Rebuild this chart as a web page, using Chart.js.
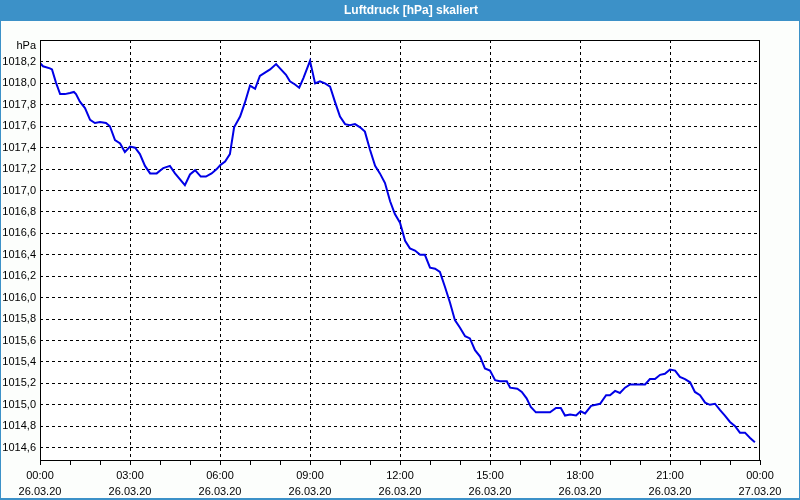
<!DOCTYPE html>
<html>
<head>
<meta charset="utf-8">
<script src="https://cdn.jsdelivr.net/npm/chart.js@4"></script>
<style>
  html, body { margin: 0; padding: 0; background: #fcfefc; }
  #wrap { width: 800px; height: 500px; }
</style>
</head>
<body>
<div id="wrap"><canvas id="chart" width="800" height="500"></canvas></div>
<script>
(function () {
  "use strict";

  var titleText = "Luftdruck [hPa] skaliert";
  var unitText = "hPa";
  var dateLabels = ["26.03.20", "27.03.20"];

  // hours since 26.03.20 00:00
  var hours = [
    0.00, 0.10, 0.33, 0.40, 0.53, 0.67, 0.83, 1.00, 1.13, 1.20,
    1.33, 1.50, 1.67, 1.83, 2.00, 2.20, 2.33, 2.50, 2.67, 2.83,
    3.00, 3.17, 3.33, 3.50, 3.67, 3.89, 4.11, 4.33, 4.50, 4.83,
    5.00, 5.17, 5.36, 5.53, 5.72, 5.89, 6.02, 6.17, 6.33, 6.47,
    6.67, 6.83, 7.00, 7.17, 7.33, 7.50, 7.67, 7.87, 8.00, 8.20,
    8.33, 8.50, 8.64, 8.78, 9.00, 9.17, 9.33, 9.50, 9.67, 9.83,
    10.00, 10.17, 10.33, 10.50, 10.67, 10.83, 11.00, 11.17, 11.33, 11.50,
    11.67, 11.83, 12.00, 12.17, 12.33, 12.50, 12.67, 12.83, 13.00, 13.17,
    13.33, 13.50, 13.67, 13.83, 14.00, 14.17, 14.33, 14.50, 14.67, 14.83,
    15.00, 15.17, 15.33, 15.56, 15.67, 15.91, 16.06, 16.22, 16.36, 16.53,
    17.00, 17.20, 17.36, 17.50, 17.67, 17.87, 18.02, 18.17, 18.37, 18.67,
    18.87, 19.00, 19.17, 19.33, 19.50, 19.67, 20.17, 20.33, 20.50, 20.67,
    20.83, 21.00, 21.17, 21.33, 21.50, 21.67, 21.83, 22.00, 22.17, 22.33,
    22.50, 22.67, 22.83, 23.00, 23.17, 23.33, 23.50, 23.67, 23.83
  ];

  var pressure = [
    1018.19, 1018.16, 1018.14, 1018.13, 1018.01, 1017.90, 1017.90, 1017.91, 1017.92, 1017.90,
    1017.83, 1017.77, 1017.66, 1017.63, 1017.64, 1017.63, 1017.60, 1017.47, 1017.44, 1017.36,
    1017.41, 1017.40, 1017.34, 1017.23, 1017.16, 1017.16, 1017.21, 1017.23, 1017.16, 1017.05,
    1017.15, 1017.19, 1017.13, 1017.13, 1017.16, 1017.20, 1017.24, 1017.27, 1017.34, 1017.59,
    1017.69, 1017.82, 1017.98, 1017.95, 1018.07, 1018.10, 1018.13, 1018.18, 1018.14, 1018.08,
    1018.02, 1017.99, 1017.96, 1018.05, 1018.21, 1018.00, 1018.02, 1018.00, 1017.97, 1017.83,
    1017.69, 1017.62, 1017.61, 1017.62, 1017.59, 1017.55, 1017.38, 1017.23, 1017.16, 1017.07,
    1016.90, 1016.78, 1016.70, 1016.53, 1016.46, 1016.44, 1016.40, 1016.40, 1016.28, 1016.27,
    1016.24, 1016.10, 1015.95, 1015.79, 1015.72, 1015.64, 1015.62, 1015.51, 1015.45, 1015.34,
    1015.32, 1015.23, 1015.22, 1015.22, 1015.16, 1015.15, 1015.12, 1015.06, 1014.98, 1014.93,
    1014.93, 1014.97, 1014.97, 1014.90, 1014.91, 1014.90, 1014.94, 1014.92, 1014.99, 1015.01,
    1015.09, 1015.09, 1015.13, 1015.11, 1015.16, 1015.19, 1015.19, 1015.24, 1015.24, 1015.28,
    1015.29, 1015.33, 1015.32, 1015.26, 1015.24, 1015.21, 1015.12, 1015.09, 1015.02, 1015.00,
    1015.01, 1014.95, 1014.90, 1014.84, 1014.80, 1014.74, 1014.74, 1014.69, 1014.65
  ];

  var yTicks = [
    1014.6, 1014.8, 1015.0, 1015.2, 1015.4, 1015.6, 1015.8, 1016.0, 1016.2, 1016.4,
    1016.6, 1016.8, 1017.0, 1017.2, 1017.4, 1017.6, 1017.8, 1018.0, 1018.2
  ];

  var FONT = "'Liberation Sans', Arial, sans-serif";
  var BLUE = "#3c91c8";

  function pad2(n) {
    return (n < 10 ? "0" : "") + n;
  }

  var framePlugin = {
    id: "frame",
    beforeDraw: function (chart) {
      var ctx = chart.ctx;
      var w = chart.width, h = chart.height;
      ctx.save();
      ctx.fillStyle = "#fcfefc";
      ctx.fillRect(0, 0, w, h);
      var a = chart.chartArea;
      ctx.fillStyle = "#ffffff";
      ctx.fillRect(a.left, a.top, a.right - a.left, a.bottom - a.top);
      // title bar and window border
      ctx.fillStyle = BLUE;
      ctx.fillRect(0, 0, w, 21);
      ctx.fillRect(0, 0, 1, h);
      ctx.fillRect(w - 1, 0, 1, h);
      ctx.fillRect(0, h - 2, w, 2);
      ctx.fillStyle = "#ffffff";
      ctx.font = "bold 12px " + FONT;
      ctx.textAlign = "center";
      ctx.textBaseline = "middle";
      ctx.fillText(titleText, 411, 11);
      ctx.restore();
    },
    afterDraw: function (chart) {
      var ctx = chart.ctx;
      var a = chart.chartArea;
      ctx.save();
      ctx.strokeStyle = "#000000";
      ctx.lineWidth = 1;
      ctx.setLineDash([]);
      ctx.strokeRect(Math.round(a.left) + 0.5, Math.round(a.top) + 0.5,
        Math.round(a.right - a.left) - 1, Math.round(a.bottom - a.top));
      ctx.fillStyle = "#000000";
      ctx.font = "11px " + FONT;
      ctx.textAlign = "right";
      ctx.textBaseline = "middle";
      ctx.fillText(unitText, a.left - 4, 46);
      ctx.restore();
    }
  };

  var points = hours.map(function (h, i) {
    return { x: h, y: pressure[i] };
  });

  new Chart(document.getElementById("chart"), {
    type: "line",
    data: {
      datasets: [{
        data: points,
        borderColor: "#0000e6",
        borderWidth: 2,
        pointRadius: 0,
        tension: 0,
        fill: false
      }]
    },
    options: {
      responsive: false,
      animation: false,
      events: [],
      layout: { padding: { top: 40, right: 40, left: 0, bottom: 0 } },
      plugins: {
        legend: { display: false },
        tooltip: { enabled: false },
        title: { display: false }
      },
      scales: {
        x: {
          type: "linear",
          min: 0,
          max: 24,
          afterFit: function (scale) { scale.height = 40; },
          border: { display: false, dash: [3, 3] },
          grid: {
            color: function (c) {
              var v = c.tick ? c.tick.value : 0;
              return (v % 3 === 0 && v !== 0 && v !== 24) ? "#000000" : "rgba(0,0,0,0)";
            },
            tickColor: "#000000",
            tickLength: 5,
            tickBorderDash: [],
            lineWidth: 1
          },
          ticks: {
            stepSize: 1,
            autoSkip: false,
            maxRotation: 0,
            padding: 3,
            color: "#000000",
            font: { family: FONT, size: 11, lineHeight: 1.45 },
            callback: function (value) {
              if (value % 3 !== 0) return "";
              var hh = value % 24;
              var d = value >= 24 ? dateLabels[1] : dateLabels[0];
              return [pad2(hh) + ":00", d];
            }
          }
        },
        y: {
          type: "linear",
          min: 1014.485,
          max: 1018.405,
          afterFit: function (scale) { scale.width = 40; },
          afterBuildTicks: function (scale) {
            scale.ticks = yTicks.map(function (v) { return { value: v }; });
          },
          border: { display: false, dash: [3, 3] },
          grid: {
            color: "#000000",
            drawTicks: false,
            lineWidth: 1
          },
          ticks: {
            padding: 4,
            color: "#000000",
            font: { family: FONT, size: 11 },
            callback: function (value) {
              return value.toFixed(1).replace(".", ",");
            }
          }
        }
      }
    },
    plugins: [framePlugin]
  });
})();
</script>
</body>
</html>
